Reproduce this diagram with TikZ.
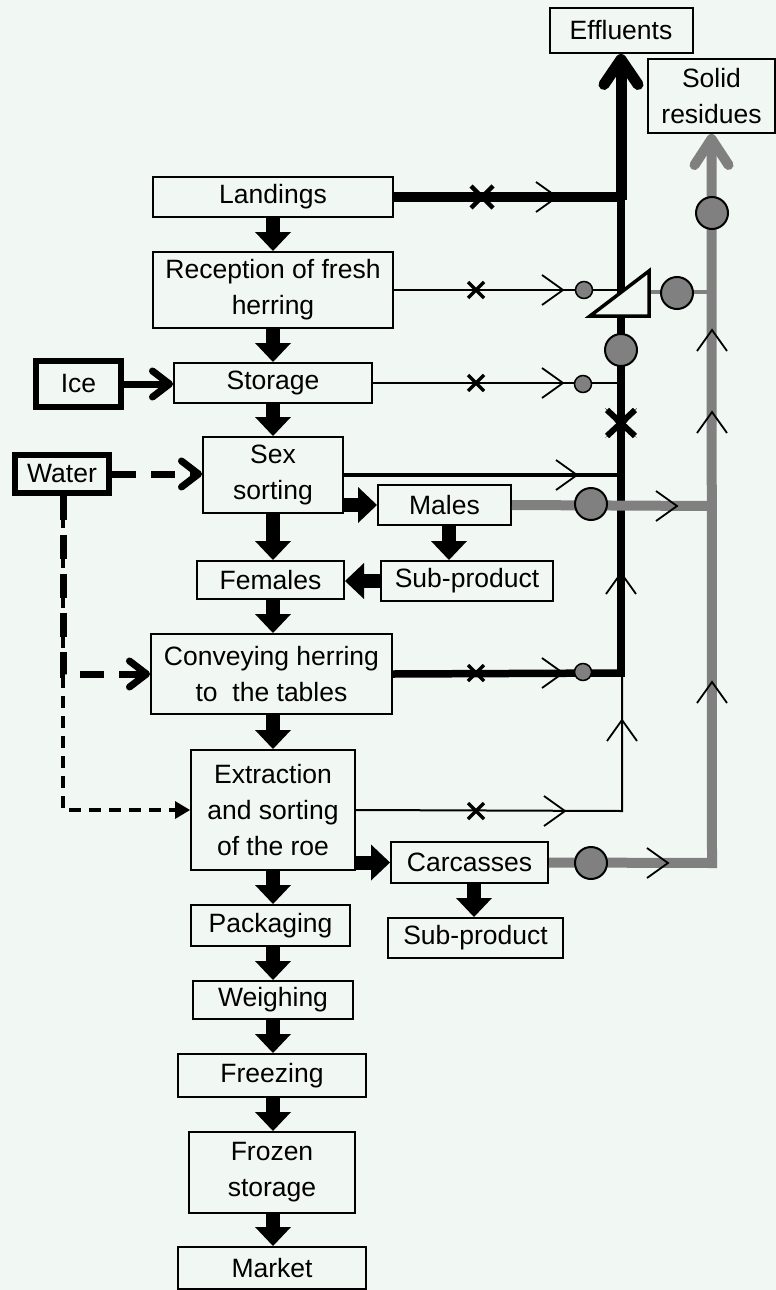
\documentclass[tikz,border=0pt]{standalone}
\usepackage{fontspec}
\setmainfont{Liberation Sans}
\usetikzlibrary{arrows.meta}
\definecolor{paper}{HTML}{F1F7F3}
\definecolor{resid}{HTML}{808080}
\begin{document}
\begin{tikzpicture}[x=1pt,y=-1pt,
  box/.style={draw, line width=2pt, fill=paper, inner sep=0pt, align=center,
    font=\fontsize{26.5}{36}\selectfont},
  inputbox/.style={box, line width=6pt},
  flow/.style={line width=14pt, -{Triangle[width=36pt,length=19pt,line width=0pt]}},
  feed/.style={line width=7pt, -{Straight Barb[length=17pt,width=26pt,round]}},
  wash/.style={line width=7pt, dash pattern=on 24pt off 15pt, -{Straight Barb[length=17pt,width=26pt,round]}},
  rinse/.style={line width=4pt, dash pattern=on 12pt off 8pt, -{Triangle[length=15pt,width=18pt,line width=0pt]}},
  drain/.style={line width=2pt},
  waste/.style={resid, line width=10pt},
  chevR/.pic={\draw[line width=1.8pt] (-21,-15) -- (0,0) -- (-21,15);},
  chevU/.pic={\draw[line width=1.8pt] (-15,21) -- (0,0) -- (15,21);},
  smallx/.pic={\draw[line width=3.5pt] (-8,-8) -- (8,8) (-8,8) -- (8,-8);},
  bigdot/.style={draw, line width=2pt, fill=resid},
  smalldot/.style={draw, line width=1.5pt, fill=resid}
]
% page
\fill[paper] (0,0) rectangle (776,1290);
\useasboundingbox (0,0) rectangle (776,1290);

% destinations
\node[box, minimum width=143pt, minimum height=45pt] (effl) at (621,30.5) {Effluents};
\node[box, minimum width=127pt, minimum height=74pt] (solid) at (711.5,96) {Solid\\residues};

% main process column
\node[box, minimum width=240pt, minimum height=40pt] (land) at (273,197) {Landings};
\node[box, minimum width=240pt, minimum height=76pt] (recep) at (273,290) {Reception of fresh\\herring};
\node[box, minimum width=198pt, minimum height=40pt] (stor) at (273,383) {Storage};
\node[box, minimum width=140pt, minimum height=76pt] (sex) at (273,475) {Sex\\sorting};
\node[box, minimum width=147pt, minimum height=38pt] (fem) at (270.5,580) {Females};
\node[box, minimum width=241pt, minimum height=80pt] (conv) at (271.5,674) {Conveying herring\\to\ \ the tables};
\node[box, minimum width=164pt, minimum height=120pt] (extr) at (273,810) {Extraction\\and sorting\\of the roe};
\node[box, minimum width=159pt, minimum height=41pt] (pack) at (270.5,925.5) {Packaging};
\node[box, minimum width=160pt, minimum height=38pt] (weigh) at (273,1000) {Weighing};
\node[box, minimum width=188pt, minimum height=43pt] (freez) at (272,1075.5) {Freezing};
\node[box, minimum width=166pt, minimum height=81pt] (fstor) at (272,1172.5) {Frozen\\storage};
\node[box, minimum width=188pt, minimum height=42pt] (market) at (272,1268) {Market};

% side products
\node[box, minimum width=133pt, minimum height=40pt] (males) at (444.5,505) {Males};
\node[box, minimum width=172pt, minimum height=40pt] (subA) at (467,581) {Sub-product};
\node[box, minimum width=157pt, minimum height=41pt] (carc) at (469.5,862.5) {Carcasses};
\node[box, minimum width=175pt, minimum height=40pt] (subB) at (475.5,938) {Sub-product};

% inputs
\node[inputbox, minimum width=85pt, minimum height=46pt] (ice) at (78.5,384) {Ice};
\node[inputbox, minimum width=94pt, minimum height=38pt] (water) at (62,474) {Water};

% product flow down the main column
\foreach \a/\b in {land/recep, recep/stor, stor/sex, sex/fem, fem/conv, conv/extr,
                   extr/pack, pack/weigh, weigh/freez, freez/fstor, fstor/market}
  \draw[flow] (\a.south -| 273,0) -- (273,0 |- \b.north);
\draw[flow] (sex.east |- males.west) -- (males.west);
\draw[flow] ([xshift=4.5pt]males.south) -- ([xshift=4.5pt]males.south |- subA.north);
\draw[flow] (subA.west) -- (subA.west -| fem.east);
\draw[flow] (extr.east |- carc.west) -- (carc.west);
\draw[flow] ([xshift=4.5pt]carc.south) -- ([xshift=4.5pt]carc.south |- subB.north);

% inputs of ice and water
\draw[feed] (ice.east) -- (ice.east -| stor.west);
\draw[wash] (water.east) -- (water.east -| sex.west);
\draw[rinse] ([xshift=1pt]water.south) -- ([xshift=1pt]water.south |- extr.west) -- (extr.west);
\draw[wash] ([xshift=1pt]water.south) -- ([xshift=1pt]water.south |- conv.west) -- (conv.west);

% effluent collector
\coordinate (jL) at (621,197);
\coordinate (jC) at (621,673);
\draw[line width=10pt] (land.east) -- (jL);
\draw[drain] (recep.east) -- (621,290);
\draw[drain] (stor.east) -- (621,383);
\draw[line width=4.5pt] (sex.east) -- (621,475);
\draw[line width=7.5pt] (conv.east) -- (jC);
\draw[drain] (extr.east) -- (622,811) -- (622,673);
\draw[line width=8.5pt] (621,677) -- (jL);
\draw[line width=11pt, -{Straight Barb[length=25pt,width=34pt,round]}] (621,200) -- (effl.south);

% solid residues collector
\draw[waste, line join=miter, -{Straight Barb[length=26pt,width=34pt,round]}] (carc.east) -- (712,863) -- (solid.south);
\draw[waste] (males.east) -- (712,506);
\draw[resid, line width=4.5pt] (649,292) -- (712,292);

% screen on the collector
\filldraw[fill=paper, line width=3.5pt, line join=miter] (590,316) -- (649,271) -- (649,316) -- cycle;

% markers on the effluent lines
\draw[line width=4.5pt] (471,186) -- (493,208) (471,208) -- (493,186);
\pic at (557,197) {chevR};
\pic at (476,290) {smallx};
\pic at (563,290) {chevR};
\filldraw[smalldot] (584,290) circle (8.5);
\pic at (476,383) {smallx};
\pic at (563,383) {chevR};
\filldraw[smalldot] (583,384) circle (8.5);
\pic at (577,475) {chevR};
\pic at (476,673) {smallx};
\pic at (563,673) {chevR};
\filldraw[smalldot] (583,672) circle (8.5);
\pic at (476,811) {smallx};
\pic at (565,811) {chevR};
\pic at (622,720) {chevU};
\filldraw[bigdot] (621,350) circle (16);
\fill (605,408) -- (618,420) -- (621,423) -- (624,420) -- (637,408) -- (624,426) -- (637,438) -- (621,426) -- (605,438) -- (618,426) -- cycle;
\draw[line width=6pt] (607,410) -- (635,436) (607,436) -- (635,410);
\pic at (621,573) {chevU};

% markers on the solid residue lines
\filldraw[bigdot] (677,293) circle (16);
\filldraw[bigdot] (712,213) circle (16);
\filldraw[bigdot] (591,504) circle (16);
\pic at (677,506) {chevR};
\filldraw[bigdot] (591,863) circle (16);
\pic at (668,863) {chevR};
\pic at (712,330) {chevU};
\pic at (712,412) {chevU};
\pic at (712,682) {chevU};
\end{tikzpicture}
\end{document}
